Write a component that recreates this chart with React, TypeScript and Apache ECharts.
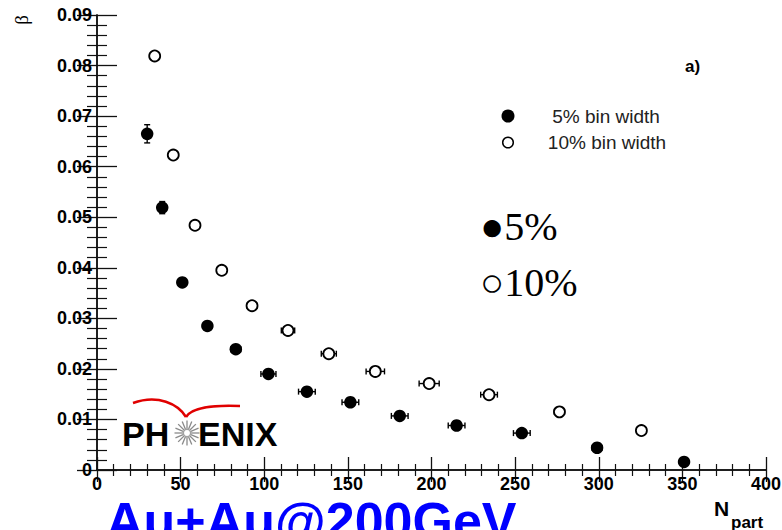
import React, { useEffect, useRef } from "react";
import * as echarts from "echarts";

// 5% bin width (filled)
const npart5 = [30, 39, 51, 66, 83, 102.5, 125.5, 151.5, 181, 215, 254, 299, 351];
const beta5 = [0.0665, 0.0519, 0.0371, 0.0285, 0.0239, 0.019, 0.0155, 0.0134, 0.0107, 0.0088, 0.0073, 0.0044, 0.0016];
const xErr5 = [1, 1.5, 2, 2.5, 3, 4.5, 5, 5, 5, 5, 5, 3, 2];
const yErr5 = [0.0018, 0.0012, 0.0006, 0.0005, 0.0005, 0.0004, 0.0004, 0.0004, 0.0004, 0.0004, 0.0004, 0.0003, 0.0003];

// 10% bin width (open)
const npart10 = [34.5, 45.6, 58.6, 74.6, 92.7, 114.2, 138.6, 166.4, 198.6, 234.4, 276.5, 325.5];
const beta10 = [0.0819, 0.0623, 0.0484, 0.0395, 0.0325, 0.0276, 0.023, 0.0195, 0.0171, 0.0149, 0.0115, 0.0078];
const xErr10 = [1, 1.5, 2, 2.5, 3, 4, 4.5, 5.5, 6, 5, 3, 2];
const yErr10 = [0.0005, 0.0005, 0.0004, 0.0004, 0.0004, 0.0004, 0.0004, 0.0004, 0.0004, 0.0004, 0.0004, 0.0004];

const xTicks = { min: 0, max: 400, interval: 50 };
const yTicks = { min: 0, max: 0.09, interval: 0.01 };

const SANS = "Liberation Sans, Arial, Helvetica, sans-serif";
const SERIF = "Liberation Serif, Times New Roman, serif";

function errorBars(params: any, api: any) {
  const x = api.value(0);
  const y = api.value(1);
  const ex = api.value(2);
  const ey = api.value(3);
  const st = { stroke: "#000", lineWidth: 1.4 };
  const children: any[] = [];
  const l = api.coord([x - ex, y]);
  const r = api.coord([x + ex, y]);
  const t = api.coord([x, y + ey]);
  const b = api.coord([x, y - ey]);
  const cap = 3;
  if (ex > 0) {
    children.push({ type: "line", shape: { x1: l[0], y1: l[1], x2: r[0], y2: r[1] }, style: st });
    children.push({ type: "line", shape: { x1: l[0], y1: l[1] - cap, x2: l[0], y2: l[1] + cap }, style: st });
    children.push({ type: "line", shape: { x1: r[0], y1: r[1] - cap, x2: r[0], y2: r[1] + cap }, style: st });
  }
  if (ey > 0) {
    children.push({ type: "line", shape: { x1: t[0], y1: t[1], x2: b[0], y2: b[1] }, style: st });
    children.push({ type: "line", shape: { x1: t[0] - cap, y1: t[1], x2: t[0] + cap, y2: t[1] }, style: st });
    children.push({ type: "line", shape: { x1: b[0] - cap, y1: b[1], x2: b[0] + cap, y2: b[1] }, style: st });
  }
  return { type: "group", children };
}

function starLines() {
  const cx = 187;
  const cy = 433;
  const out: any[] = [];
  const n = 16;
  for (let i = 0; i < n; i++) {
    const a = (i / n) * Math.PI * 2;
    out.push({
      type: "line",
      shape: {
        x1: cx + Math.cos(a) * 3.5,
        y1: cy + Math.sin(a) * 3.5,
        x2: cx + Math.cos(a) * 12.5,
        y2: cy + Math.sin(a) * 12.5,
      },
      style: { stroke: "#8a8a8a", lineWidth: 1.3 },
    });
  }
  out.push({ type: "circle", shape: { cx, cy, r: 3.5 }, style: { fill: "#fff", stroke: "#9a9a9a", lineWidth: 1 } });
  return out;
}

export default function App() {
  const ref = useRef<HTMLDivElement>(null);
  useEffect(() => {
    if (!ref.current) return;
    const chart = echarts.init(ref.current, null, { renderer: "svg" });
    const axisLine = { show: true, lineStyle: { color: "#111", width: 1.5 } };
    const xLabel = { color: "#000", fontWeight: "bold", fontSize: 18, fontFamily: SANS, margin: 5 };
    const yLabel = {
      color: "#000",
      fontWeight: "bold",
      fontSize: 18,
      fontFamily: SANS,
      margin: 5,
      formatter: (v: number) => (v === 0 ? "0" : v.toFixed(2)),
    };
    const option: any = {
      animation: false,
      backgroundColor: "#fff",
      grid: { left: 97, top: 15, right: 16, bottom: 60, containLabel: false, outerBoundsMode: "none" },
      xAxis: [
        {
          type: "value",
          position: "bottom",
          ...xTicks,
          axisLine,
          axisTick: { show: true, inside: true, length: 13, lineStyle: { color: "#111", width: 1.3 } },
          minorTick: { show: true, splitNumber: 5, length: 6, lineStyle: { color: "#111", width: 1.2 } },
          axisLabel: xLabel,
          splitLine: { show: false },
        },
        {
          type: "value",
          position: "top",
          ...xTicks,
          axisLine,
          axisTick: { show: true, inside: true, length: 12, lineStyle: { color: "#111", width: 1.3 } },
          minorTick: { show: true, splitNumber: 5, length: 6, lineStyle: { color: "#111", width: 1.2 } },
          axisLabel: { show: false },
          splitLine: { show: false },
        },
      ],
      yAxis: [
        {
          type: "value",
          position: "left",
          ...yTicks,
          axisLine,
          axisTick: { show: true, inside: true, length: 20, lineStyle: { color: "#111", width: 1.3 } },
          minorTick: { show: true, splitNumber: 5, length: 10, lineStyle: { color: "#111", width: 1.2 } },
          axisLabel: yLabel,
          splitLine: { show: false },
        },
        {
          type: "value",
          position: "right",
          ...yTicks,
          axisLine,
          axisTick: { show: true, inside: true, length: 20, lineStyle: { color: "#111", width: 1.3 } },
          minorTick: { show: true, splitNumber: 5, length: 10, lineStyle: { color: "#111", width: 1.2 } },
          axisLabel: { show: false },
          splitLine: { show: false },
        },
      ],
      series: [
        {
          name: "5% err",
          type: "custom",
          xAxisIndex: 0,
          yAxisIndex: 0,
          renderItem: errorBars,
          encode: { x: 0, y: 1 },
          data: npart5.map((x, i) => [x, beta5[i], xErr5[i], yErr5[i]]),
          z: 2,
        },
        {
          name: "10% err",
          type: "custom",
          xAxisIndex: 0,
          yAxisIndex: 0,
          renderItem: errorBars,
          encode: { x: 0, y: 1 },
          data: npart10.map((x, i) => [x, beta10[i], xErr10[i], yErr10[i]]),
          z: 2,
        },
        {
          name: "5% bin width",
          type: "scatter",
          xAxisIndex: 0,
          yAxisIndex: 0,
          symbol: "circle",
          symbolSize: 12.5,
          itemStyle: { color: "#000", opacity: 1 },
          data: npart5.map((x, i) => [x, beta5[i]]),
          z: 3,
        },
        {
          name: "10% bin width",
          type: "scatter",
          xAxisIndex: 0,
          yAxisIndex: 0,
          symbol: "circle",
          symbolSize: 11,
          itemStyle: { color: "#fff", borderColor: "#000", borderWidth: 1.8, opacity: 1 },
          data: npart10.map((x, i) => [x, beta10[i]]),
          z: 3,
        },
      ],
      graphic: [
        {
          type: "text",
          x: 21,
          y: 20,
          rotation: Math.PI / 2,
          style: { text: "β", fontSize: 19, fontFamily: SERIF, fill: "#000", align: "center", verticalAlign: "middle" },
        },
        {
          type: "text",
          x: 685,
          y: 66,
          style: { text: "a)", fontSize: 17, fontWeight: "bold", fontFamily: SANS, fill: "#000", align: "left", verticalAlign: "middle" },
        },
        { type: "circle", shape: { cx: 508, cy: 116, r: 6.5 }, style: { fill: "#000" } },
        { type: "circle", shape: { cx: 508, cy: 142.5, r: 5.3 }, style: { fill: "#fff", stroke: "#000", lineWidth: 1.5 } },
        {
          type: "text",
          x: 606,
          y: 116,
          style: { text: "5% bin width", fontSize: 19, fontFamily: SANS, fill: "#222", align: "center", verticalAlign: "middle" },
        },
        {
          type: "text",
          x: 607,
          y: 142,
          style: { text: "10% bin width", fontSize: 19, fontFamily: SANS, fill: "#222", align: "center", verticalAlign: "middle" },
        },
        {
          type: "text",
          x: 480,
          y: 226,
          style: { text: "●5%", fontSize: 40, fontFamily: SERIF + ", DejaVu Sans", fill: "#000", align: "left", verticalAlign: "middle" },
        },
        {
          type: "text",
          x: 480,
          y: 282,
          style: { text: "○10%", fontSize: 40, fontFamily: SERIF + ", DejaVu Sans", fill: "#000", align: "left", verticalAlign: "middle" },
        },
        {
          type: "bezierCurve",
          shape: { x1: 133, y1: 403, cpx1: 158, cpy1: 394, cpx2: 178, cpy2: 404, x2: 186, y2: 417 },
          style: { stroke: "#e00000", lineWidth: 2.5, fill: "none" },
        },
        {
          type: "bezierCurve",
          shape: { x1: 186, y1: 417, cpx1: 192, cpy1: 407, cpx2: 212, cpy2: 405, x2: 240, y2: 406 },
          style: { stroke: "#e00000", lineWidth: 2.5, fill: "none" },
        },
        ...starLines(),
        {
          type: "text",
          x: 122,
          y: 434,
          style: { text: "PH", fontSize: 34, fontWeight: "bold", fontFamily: SANS, fill: "#000", align: "left", verticalAlign: "middle" },
        },
        {
          type: "text",
          x: 198,
          y: 434,
          style: { text: "ENIX", fontSize: 34, fontWeight: "bold", fontFamily: SANS, fill: "#000", align: "left", verticalAlign: "middle" },
        },
        {
          type: "text",
          x: 106,
          y: 521,
          style: { text: "Au+Au@200GeV", fontSize: 52, fontWeight: "bold", fontFamily: SANS, fill: "#0000ff", align: "left", verticalAlign: "middle" },
        },
        {
          type: "text",
          x: 714,
          y: 508,
          style: { text: "N", fontSize: 21, fontWeight: "bold", fontFamily: SANS, fill: "#000", align: "left", verticalAlign: "middle" },
        },
        {
          type: "text",
          x: 731,
          y: 522,
          style: { text: "part", fontSize: 17, fontWeight: "bold", fontFamily: SANS, fill: "#000", align: "left", verticalAlign: "middle" },
        },
      ],
    };
    chart.setOption(option);
    return () => chart.dispose();
  }, []);
  return <div ref={ref} style={{ position: "fixed", left: 0, top: 0, width: 782, height: 530 }} />;
}
